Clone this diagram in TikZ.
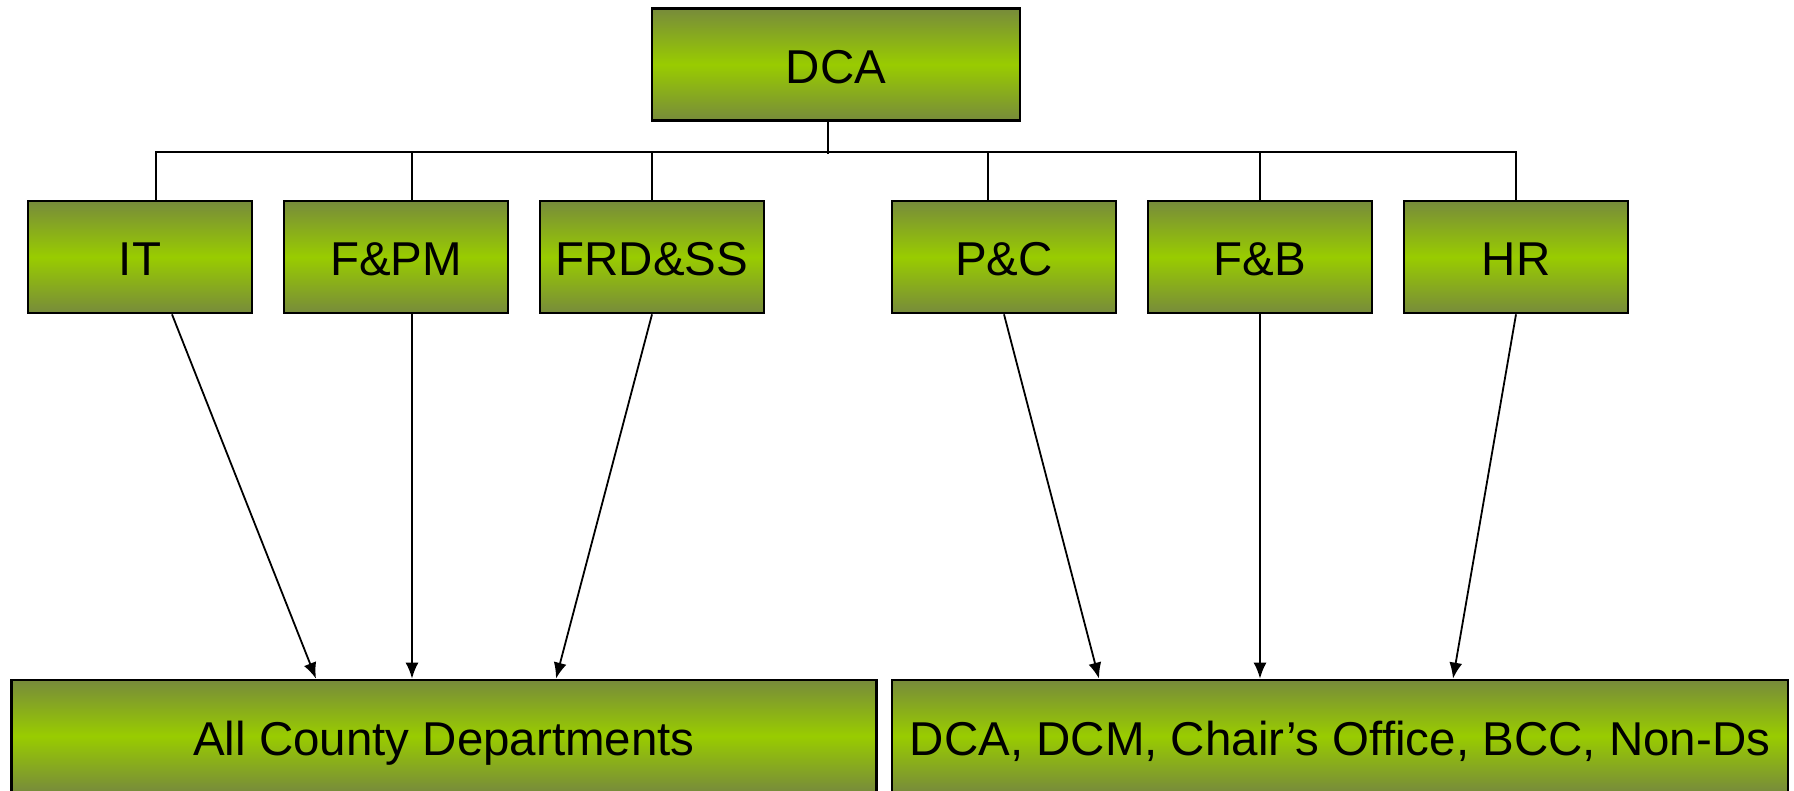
\documentclass[tikz,border=0pt]{standalone}
\usepackage{fontspec}
\setmainfont{Liberation Sans}
\usetikzlibrary{arrows.meta}
\definecolor{olivedark}{RGB}{119,139,59}
\definecolor{limemid}{RGB}{153,204,0}

\begin{document}
\begin{tikzpicture}[x=1pt, y=-1pt,
	dept/.style={draw, line width=2.7pt, top color=olivedark, bottom color=olivedark, middle color=limemid,
		minimum width=224pt, minimum height=112pt, inner sep=0pt,
		font=\fontsize{47.5}{57}\selectfont, text height=38pt, text depth=0pt},
	arr/.style={line width=1.8pt, -{Latex[length=16pt,width=13pt]}}]
				\useasboundingbox (0,0) rectangle (1794,791);
				\clip (0,0) rectangle (1794,791);
				\node[dept, minimum width=368pt] (dca) at (836,64.5) {DCA};
				
				\node[dept] (it) at (140,257) {IT};
				\node[dept] (fpm) at (396,257) {F\&PM};
				\node[dept] (frdss) at (652,257) {FRD\&SS};
				\node[dept] (pc) at (1004,257) {P\&C};
				\node[dept] (fb) at (1260,257) {F\&B};
				\node[dept] (hr) at (1516,257) {HR};
				
				\node[dept, minimum width=865pt] (all) at (444,736) {All County Departments};
				\node[dept, minimum width=896pt] (rest) at (1340,736) {DCA, DCM, Chair’s Office, BCC, Non-Ds};
				
				\draw[line width=1.8pt] ([xshift=-8pt]dca.south) -- ++(0,32);
				\draw[line width=1.8pt] ([xshift=16pt]it.north) -- ++(0,-48) -| (hr.north);
				\foreach \n/\s in {fpm/16, frdss/0, pc/-16, fb/0}
					\draw[line width=1.8pt] ([xshift=\s pt]\n.north) -- ++(0,-48);
				
				\draw[arr] ([xshift=32pt]it.south) -- ([xshift=-128pt]all.north);
				\draw[arr] ([xshift=16pt]fpm.south) -- ([xshift=-32pt]all.north);
				\draw[arr] (frdss.south) -- ([xshift=112pt]all.north);
				\draw[arr] (pc.south) -- ([xshift=-241pt]rest.north);
				\draw[arr] (fb.south) -- ([xshift=-80pt]rest.north);
				\draw[arr] (hr.south) -- ([xshift=113pt]rest.north);
			\end{tikzpicture}
\end{document}
